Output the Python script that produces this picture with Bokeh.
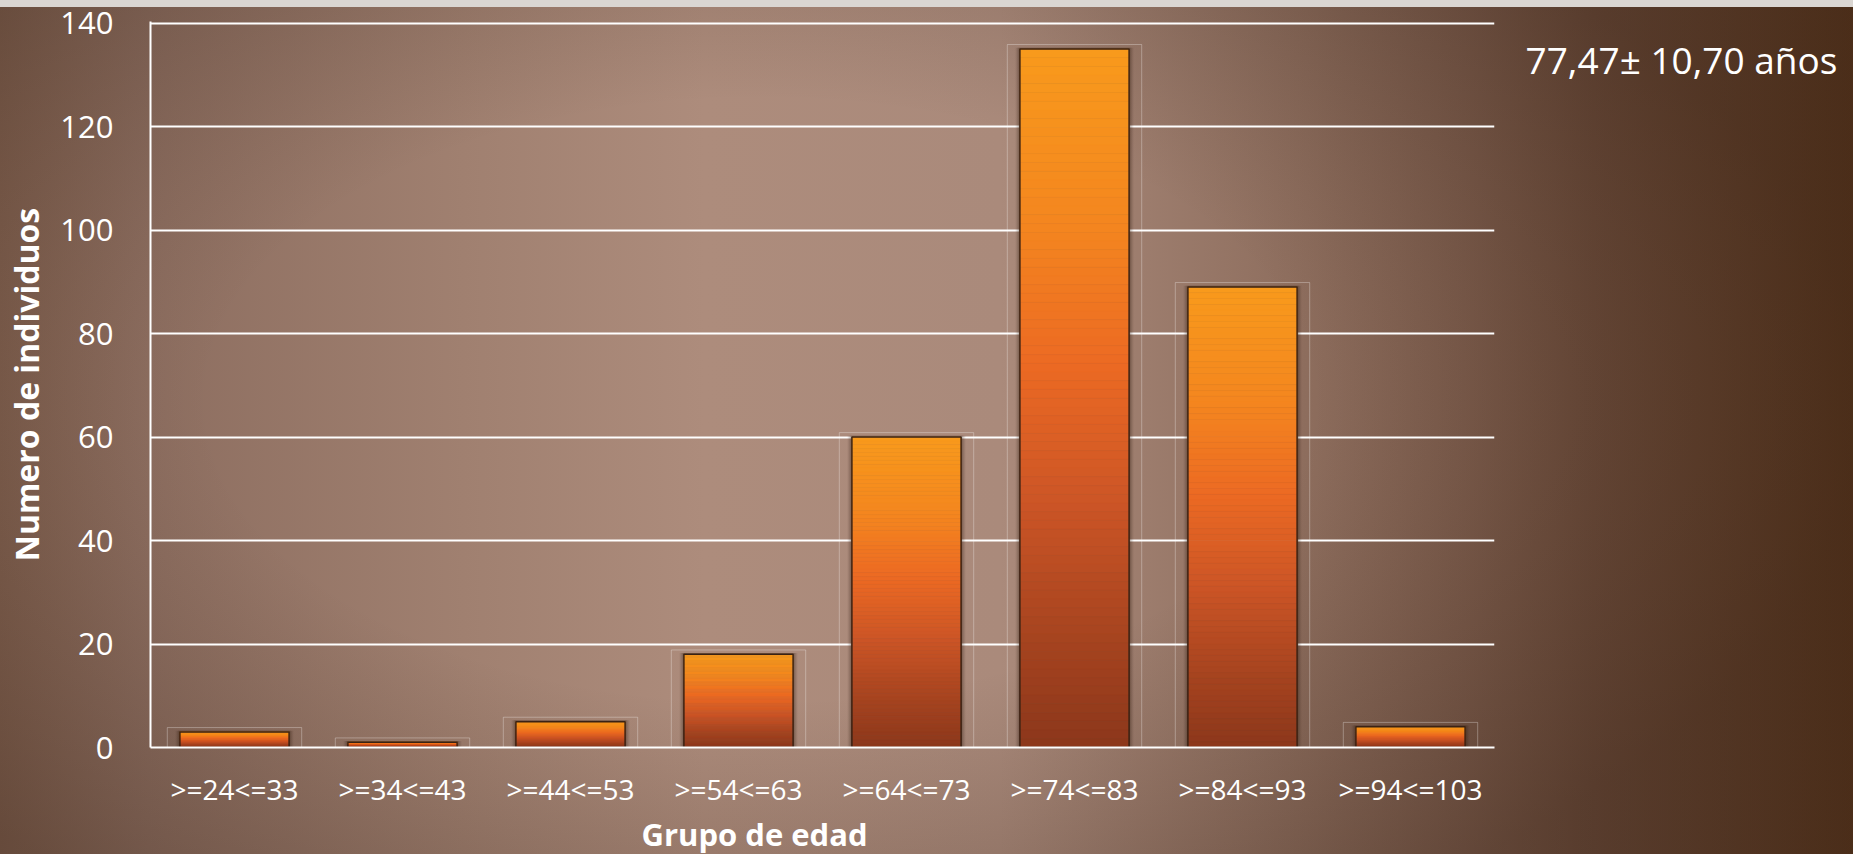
import numpy as np
from bokeh.plotting import figure
from bokeh.models import (Range1d, FactorRange, FixedTicker, LinearAxis, Title,
                          ColumnDataSource)
from bokeh.embed import file_html
from bokeh.resources import INLINE

# Age groups and number of individuals in each
groups = [">=24<=33", ">=34<=43", ">=44<=53", ">=54<=63",
          ">=64<=73", ">=74<=83", ">=84<=93", ">=94<=103"]
counts = [3, 1, 5, 18, 60, 135, 89, 4]
y_ticks = [0, 20, 40, 60, 80, 100, 120, 140]
summary = "77,47± 10,70 años"
summary_level = 132.9   # height on the count scale where the summary sits

# Vertical colour ramp used inside each bar (0 = top, 1 = base)
ramp_pos = [0.00, 0.25, 0.45, 0.65, 0.85, 1.00]
ramp_col = ["#F89A1C", "#F4861F", "#EC6A23", "#CC5526", "#A5431F", "#8C371B"]

FONT = "Open Sans"
BAR_W = 0.65
BOX_W = 0.80
N_SLICES = 80


def hex_to_rgb(h):
    h = h.lstrip("#")
    return np.array([int(h[i:i + 2], 16) for i in (0, 2, 4)], dtype=float)


ramp_rgb = np.array([hex_to_rgb(c) for c in ramp_col])


def ramp(t):
    rgb = [np.interp(t, ramp_pos, ramp_rgb[:, k]) for k in range(3)]
    return "#%02x%02x%02x" % tuple(int(round(v)) for v in rgb)


background_css = (
    "linear-gradient(to bottom, #DAD6D2 0px, #DAD6D2 7px, rgba(0,0,0,0) 7px),"
    "radial-gradient(ellipse 1100px 600px at 760px 400px, rgba(0,0,0,0) 50%, rgba(35,18,8,0.28) 100%),"
    "linear-gradient(to right, #80604F 0%, #8D6E60 8%, #A08070 25%, #AD8C7C 38%, "
    "#AA8A7B 54%, #8E6E5E 70%, #7C5C4C 79%, #6C4C3B 86%, #5A3820 100%)"
)

p = figure(
    width=1853, height=854,
    x_range=FactorRange(*groups, range_padding=0),
    y_range=Range1d(0, 140.3),
    output_backend="svg", toolbar_location=None,
    min_border_left=150, min_border_right=359,
    min_border_top=21, min_border_bottom=107,
    border_fill_color=None, background_fill_color=None,
    outline_line_color=None,
)
p.title.visible = False
p.styles = {"background": background_css}

# faint boxes around each bar
p.vbar(x=groups, width=BOX_W, bottom=-0.6, top=[c + 0.85 for c in counts],
       fill_color=None, line_color="white", line_alpha=0.3, line_width=1)

# soft shadow behind bars
for w, a in [(0.70, 0.10), (0.68, 0.14), (0.665, 0.18)]:
    p.vbar(x=groups, width=w, bottom=0, top=[c + 0.25 for c in counts],
           fill_color="#2A160A", fill_alpha=a, line_color=None)

# bars filled with a top-to-bottom colour ramp
xs, bots, tops, cols = [], [], [], []
for g, c in zip(groups, counts):
    edges = np.linspace(c, 0, N_SLICES + 1)
    for i in range(N_SLICES):
        xs.append(g)
        tops.append(edges[i])
        bots.append(edges[i + 1])
        cols.append(ramp((i + 0.5) / N_SLICES))
slices = ColumnDataSource(dict(x=xs, bottom=bots, top=tops, color=cols))
p.vbar(x="x", width=BAR_W, bottom="bottom", top="top", source=slices,
       fill_color="color", line_color="color", line_width=0.5)

# dark bar outlines
p.vbar(x=groups, width=BAR_W, bottom=0, top=counts,
       fill_color=None, line_color="#3A2214", line_width=1.5)

# grid and axes
p.xgrid.grid_line_color = None
p.ygrid.ticker = FixedTicker(ticks=y_ticks)
p.ygrid.grid_line_color = "white"
p.ygrid.grid_line_width = 2

p.yaxis.ticker = FixedTicker(ticks=y_ticks)
for ax in (p.xaxis, p.yaxis):
    ax.axis_line_color = "white"
    ax.axis_line_width = 2
    ax.major_tick_line_color = None
    ax.minor_tick_line_color = None
    ax.major_label_text_color = "white"
    ax.major_label_text_font = FONT

p.yaxis.major_label_text_font_size = "31px"
p.yaxis.major_label_standoff = 31
p.yaxis.axis_label = "Numero de individuos"
p.yaxis.axis_label_text_font = FONT
p.yaxis.axis_label_text_font_style = "bold"
p.yaxis.axis_label_text_font_size = "32px"
p.yaxis.axis_label_text_color = "white"
p.yaxis.axis_label_standoff = 9

p.xaxis.major_label_text_font_size = "28px"
p.xaxis.major_label_standoff = 16

# x axis title, set under the tick labels
p.add_layout(Title(text="Grupo de edad", align="left", offset=491, standoff=0,
                   text_font=FONT, text_font_style="bold", text_font_size="31px",
                   text_color="white"), "below")

# summary statistic at the right of the plot area
side = LinearAxis(ticker=FixedTicker(ticks=[summary_level]),
                  major_label_overrides={summary_level: summary})
side.axis_line_color = None
side.major_tick_line_color = None
side.minor_tick_line_color = None
side.major_label_standoff = 25
side.major_label_text_font = FONT
side.major_label_text_font_size = "37px"
side.major_label_text_color = "white"
p.add_layout(side, "right")

open("out.html", "w").write(file_html(p, INLINE))
